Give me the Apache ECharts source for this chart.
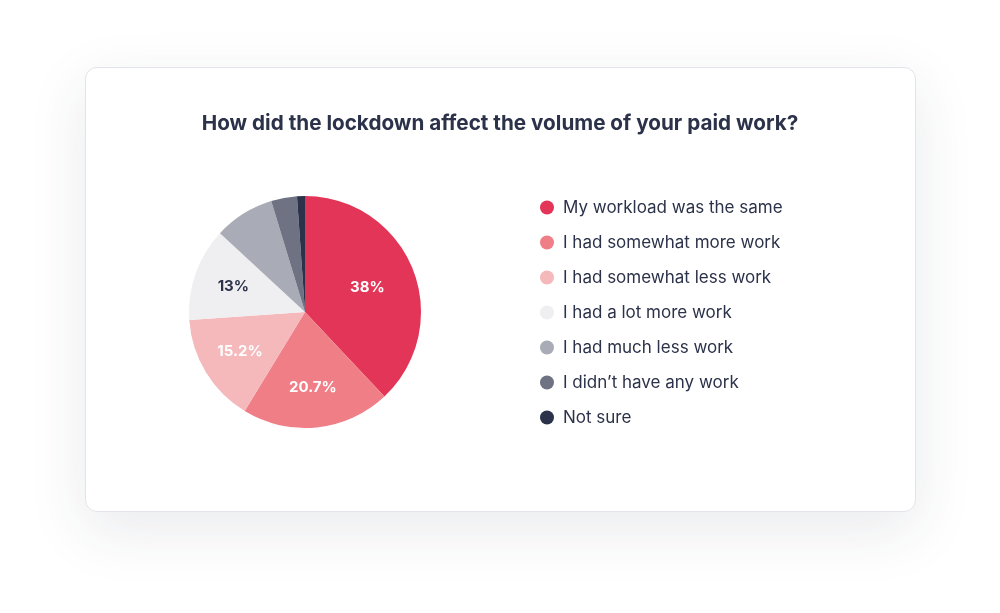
<!DOCTYPE html>
<html>
<head>
<meta charset="utf-8">
<script src="https://cdn.jsdelivr.net/npm/echarts@6/dist/echarts.min.js"></script>
<style>
    html, body { margin: 0; padding: 0; background: #ffffff; }
    #card {
        position: absolute; left: 85px; top: 67px; width: 829px; height: 443px;
        background: #fff; border: 1px solid #e3e4e9; border-radius: 12px;
        box-shadow: 0 18px 60px rgba(40, 48, 72, 0.10);
    }
    #main { position: absolute; left: 0; top: 0; width: 1000px; height: 613px; }
</style>
</head>
<body>
<div id="card"></div>
<div id="main"></div>
<script>
var titleText = 'How did the lockdown affect the volume of your paid work?';
var categories = [
    'My workload was the same',
    'I had somewhat more work',
    'I had somewhat less work',
    'I had a lot more work',
    'I had much less work',
    'I didn\u2019t have any work',
    'Not sure'
];
var values = [38, 20.7, 15.2, 13, 8.4, 3.6, 1.1];
var colors = ['#e33557', '#f07e86', '#f5b8bb', '#efeff1', '#a9acb6', '#6e7282', '#2b3249'];
// labels: the big slice sits a bit nearer the centre than the others
var labelNear = [true, false, false, false, false, false, false];
var labelFar = [false, true, true, true, false, false, false];
var labelColors = ['#fff', '#fff', '#fff', '#2b3249', '#fff', '#fff', '#fff'];

var myChart = echarts.init(document.getElementById('main'));

function buildData(showArr) {
    var out = [];
    for (var i = 0; i < categories.length; i++) {
        out.push({
            name: categories[i],
            value: values[i],
            itemStyle: { color: showArr ? 'rgba(0,0,0,0)' : colors[i] },
            label: { show: showArr ? showArr[i] : false, color: labelColors[i] }
        });
    }
    return out;
}

var labelStyle = {
    position: 'inside',
    fontFamily: 'Inter',
    fontSize: 15,
    fontWeight: 'bold',
    formatter: '{c}%'
};

// transparent pie used only to place the labels
function labelPie(r, showArr) {
    return {
        type: 'pie',
        center: [305, 312],
        radius: [0, r],
        startAngle: 90,
        silent: true,
        label: labelStyle,
        labelLine: { show: false },
        emphasis: { disabled: true },
        data: buildData(showArr)
    };
}

var option = {
    animation: false,
    title: {
        text: titleText,
        left: 'center',
        top: 108,
        textStyle: {
            fontFamily: 'Inter',
            fontSize: 20.7,
            fontWeight: 'bold',
            color: '#2b3249'
        }
    },
    legend: {
        orient: 'vertical',
        left: 535,
        top: 194,
        icon: 'circle',
        itemWidth: 14,
        itemHeight: 14,
        itemGap: 18,
        selectedMode: false,
        textStyle: {
            fontFamily: 'Inter',
            fontSize: 17,
            color: '#2b3249',
            padding: [0, 0, 0, 4]
        },
        data: categories
    },
    series: [{
        type: 'pie',
        center: [305, 312],
        radius: 116,
        startAngle: 90,
        clockwise: true,
        label: { show: false },
        labelLine: { show: false },
        emphasis: { disabled: true },
        data: buildData(null)
    },
    labelPie(128, labelNear),
    labelPie(146, labelFar)]
};

myChart.setOption(option);
</script>
</body>
</html>
